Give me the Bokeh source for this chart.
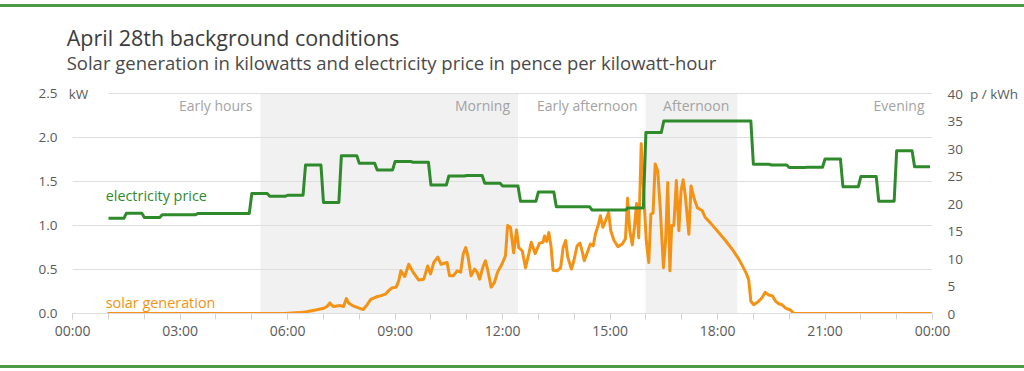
from bokeh.plotting import figure
from bokeh.models import LinearAxis, Range1d, FixedTicker, Label, Div
from bokeh.layouts import column
from bokeh.embed import file_html
from bokeh.resources import INLINE

FONT = "Open Sans"

# ---------------- data ----------------
# electricity price, pence per kWh, half-hour slots (slot start in hours)
price_slot_hours = [1.0, 1.5, 2.0, 2.5, 3.0, 3.5, 4.0, 4.5, 5.0, 5.5, 6.0, 6.5,
                    7.0, 7.5, 8.0, 8.5, 9.0, 9.5, 10.0, 10.5, 11.0, 11.5, 12.0, 12.5,
                    13.0, 13.5, 14.0, 14.5, 15.0, 15.5, 16.0, 16.5, 17.0, 17.5, 18.0, 18.5,
                    19.0, 19.5, 20.0, 20.5, 21.0, 21.5, 22.0, 22.5, 23.0, 23.5]
price_pence = [17.3, 18.25, 17.45, 17.95, 17.95, 18.2, 18.2, 18.2, 21.8, 21.3, 21.5, 27.0,
               20.2, 28.7, 27.3, 26.1, 27.65, 27.5, 23.35, 25.0, 25.1, 23.7, 23.2, 20.4,
               22.1, 19.4, 19.4, 18.8, 18.8, 19.2, 32.9, 35.0, 35.0, 35.0, 35.0, 35.0,
               27.15, 27.0, 26.55, 26.6, 28.1, 23.05, 24.9, 20.4, 29.6, 26.7]

# solar generation, kW (time in hours)
solar_hours = [0.97, 5.92, 6.32, 6.53, 6.78, 7.01, 7.10, 7.18, 7.27, 7.47, 7.56, 7.64, 7.70,
               7.81, 7.94, 8.11, 8.22, 8.32, 8.48, 8.59, 8.73, 8.82, 8.91, 9.03, 9.10,
               9.16, 9.27, 9.38, 9.50, 9.66, 9.80, 9.91, 9.99, 10.08, 10.19, 10.28, 10.45,
               10.52, 10.63, 10.73, 10.83, 10.90, 10.97, 11.03, 11.12, 11.22, 11.29, 11.36,
               11.46, 11.52, 11.58, 11.68, 11.77, 11.86, 11.98, 12.08, 12.14, 12.22, 12.31,
               12.39, 12.45, 12.55, 12.64, 12.73, 12.80, 12.91, 13.03, 13.13, 13.17, 13.23,
               13.29, 13.35, 13.41, 13.52, 13.62, 13.69, 13.76, 13.82, 13.92, 13.99, 14.08,
               14.16, 14.22, 14.28, 14.38, 14.45, 14.53, 14.59, 14.68, 14.73, 14.80, 14.87,
               14.96, 15.02, 15.11, 15.22, 15.34, 15.43, 15.49, 15.55, 15.62, 15.68, 15.74,
               15.80, 15.87, 15.96, 16.01, 16.08, 16.14, 16.20, 16.26, 16.33, 16.40, 16.49,
               16.55, 16.61, 16.67, 16.72, 16.78, 16.85, 16.92, 16.98, 17.04, 17.10, 17.20,
               17.26, 17.35, 17.44, 17.57, 17.66, 17.80, 17.99, 18.22, 18.41, 18.59, 18.71,
               18.81, 18.87, 18.93, 19.01, 19.15, 19.24, 19.33, 19.43, 19.53, 19.62, 19.71,
               19.80, 19.90, 20.03, 20.14, 23.98]
solar_kw = [0.0, 0.0, 0.01, 0.02, 0.04, 0.06, 0.08, 0.12, 0.08, 0.09, 0.08, 0.17, 0.12,
            0.09, 0.07, 0.045, 0.10, 0.16, 0.19, 0.20, 0.22, 0.26, 0.29, 0.30, 0.37,
            0.485, 0.42, 0.56, 0.47, 0.38, 0.39, 0.54, 0.45, 0.58, 0.64, 0.56, 0.58,
            0.43, 0.43, 0.485, 0.47, 0.675, 0.75, 0.655, 0.43, 0.505, 0.47, 0.39,
            0.54, 0.60, 0.505, 0.30, 0.35, 0.47, 0.56, 0.655, 1.0, 0.98, 0.69,
            0.95, 0.75, 0.71, 0.52, 0.675, 0.81, 0.68, 0.80, 0.81, 0.88, 0.82,
            0.92, 0.77, 0.49, 0.485, 0.52, 0.75, 0.83, 0.64, 0.505, 0.60, 0.77,
            0.80, 0.71, 0.60, 0.71, 0.79, 0.77, 0.90, 1.02, 1.11, 0.98, 1.05,
            1.15, 0.94, 0.83, 0.76, 0.79, 0.85, 1.31, 0.94, 0.78, 0.98, 1.25,
            0.86, 1.93, 1.20, 0.83, 0.58, 1.13, 1.14, 1.70, 1.62, 1.20, 0.52,
            0.83, 1.49, 0.485, 1.0, 1.0, 1.51, 0.94, 1.39, 1.52, 1.34, 0.90,
            1.45, 1.30, 1.20, 1.17, 1.09, 1.03, 0.94, 0.83, 0.73, 0.62, 0.53,
            0.45, 0.38, 0.14, 0.10, 0.14, 0.18, 0.24, 0.21, 0.20, 0.14, 0.11,
            0.10, 0.06, 0.04, 0.0, 0.0]

# periods of the day (hours)
period_names = ["Early hours", "Morning", "Early afternoon", "Afternoon", "Evening"]
period_start = [0.0, 5.24, 12.43, 15.99, 18.55]
period_end = [5.24, 12.43, 15.99, 18.55, 24.0]
period_shaded = [False, True, False, True, False]

x_tick_hours = [0, 3, 6, 9, 12, 15, 18, 21, 24]
x_tick_labels = ["00:00", "03:00", "06:00", "09:00", "12:00", "15:00", "18:00", "21:00", "00:00"]
kw_ticks = [0.0, 0.5, 1.0, 1.5, 2.0, 2.5]
pence_ticks = [0, 5, 10, 15, 20, 25, 30, 35, 40]

# ---------------- styling ----------------
GREEN = "#2f8a2c"
ORANGE = "#f39214"
GRID = "#dedede"
BAND = "#f1f1f1"
AXIS_TEXT = "#5a5a5a"
RULE = "#4c9a44"

PX_PER_KW = 88.0
FRAME_H = 306
KW_MAX = FRAME_H / PX_PER_KW
PENCE_MAX = KW_MAX * pence_ticks[-1] / kw_ticks[-1]
X_START = -0.34

p = figure(title=None, frame_width=872, frame_height=FRAME_H,
           min_border_left=60, min_border_right=88, min_border_top=0, min_border_bottom=52,
           x_range=Range1d(X_START, 24), y_range=Range1d(0, KW_MAX),
           output_backend="svg", toolbar_location=None,
           background_fill_color="white", border_fill_color="white")
p.outline_line_color = None
p.extra_y_ranges = {"price": Range1d(0, PENCE_MAX)}

# shaded bands
sh_left = [s for s, f in zip(period_start, period_shaded) if f]
sh_right = [e for e, f in zip(period_end, period_shaded) if f]
p.quad(left=sh_left, right=sh_right, bottom=0, top=kw_ticks[-1],
       fill_color=BAND, line_color=None, level="image")

# horizontal gridlines
p.xgrid.visible = False
p.ygrid.visible = False
p.segment(x0=0, x1=24, y0=kw_ticks[1:-1], y1=kw_ticks[1:-1],
          line_color=GRID, line_width=1.2, level="underlay")
p.segment(x0=[price_slot_hours[0]], x1=[24], y0=[kw_ticks[-1]], y1=[kw_ticks[-1]],
          line_color=GRID, line_width=1.2, level="underlay")

# x axis
xa = p.xaxis[0]
xa.bounds = (0, 24)
xa.ticker = FixedTicker(ticks=x_tick_hours, minor_ticks=list(range(0, 25)))
xa.major_label_overrides = {h: l for h, l in zip(x_tick_hours, x_tick_labels)}
xa.axis_line_color = GRID
xa.axis_line_width = 1.2
xa.major_tick_line_color = "#d2d2d2"
xa.minor_tick_line_color = "#d2d2d2"
xa.major_tick_in = 0
xa.major_tick_out = 6
xa.minor_tick_in = 0
xa.minor_tick_out = 6
xa.major_label_standoff = 1
xa.major_label_text_font = FONT
xa.major_label_text_font_size = "14px"
xa.major_label_text_color = AXIS_TEXT

# left axis (kW)
ya = p.yaxis[0]
ya.ticker = FixedTicker(ticks=kw_ticks)
ya.major_label_overrides = {t: f"{t:.1f}" for t in kw_ticks}
ya.axis_line_color = None
ya.major_tick_line_color = None
ya.minor_tick_line_color = None
ya.major_tick_in = 0
ya.major_tick_out = 0
ya.minor_tick_in = 0
ya.minor_tick_out = 0
ya.major_label_standoff = 3
ya.major_label_text_font = FONT
ya.major_label_text_font_size = "13.5px"
ya.major_label_text_color = AXIS_TEXT

# right axis (p/kWh)
ra = LinearAxis(y_range_name="price", ticker=FixedTicker(ticks=pence_ticks))
ra.major_label_overrides = {pence_ticks[-1]: f"{pence_ticks[-1]}\u00a0 p / kWh"}
ra.axis_line_color = None
ra.major_tick_line_color = None
ra.minor_tick_line_color = None
ra.major_tick_in = 0
ra.major_tick_out = 0
ra.minor_tick_in = 0
ra.minor_tick_out = 0
ra.major_label_standoff = 15
ra.major_label_text_font = FONT
ra.major_label_text_font_size = "13.5px"
ra.major_label_text_color = AXIS_TEXT
p.add_layout(ra, "right")

# solar generation line
p.line(solar_hours, solar_kw, line_color=ORANGE, line_width=3, line_join="round")

# electricity price line (half-hour steps with short ramps between slots)
HOLD = 0.43
px, py = [], []
for t, v in zip(price_slot_hours, price_pence):
    px += [t, t + HOLD]
    py += [v, v]
p.line(px, py, y_range_name="price", line_color=GREEN, line_width=3, line_join="round")

# period labels
for name, e in zip(period_names, period_end):
    p.add_layout(Label(x=e, y=kw_ticks[-1], x_offset=-8, y_offset=-12, text=name,
                       text_align="right", text_baseline="middle", text_font=FONT,
                       text_font_size="14px", text_color="#a3a3a3"))

# unit label for kW axis
p.add_layout(Label(x=0, y=kw_ticks[-1], x_offset=-4, text="kW", text_align="left",
                   text_baseline="middle", text_font=FONT, text_font_size="13.5px",
                   text_color=AXIS_TEXT))

# series labels
p.add_layout(Label(x=0, y=1.341, x_offset=33, text="electricity price", text_align="left",
                   text_baseline="middle", text_font=FONT, text_font_size="14.4px",
                   text_color=GREEN))
p.add_layout(Label(x=0, y=0.128, x_offset=33, text="solar generation", text_align="left",
                   text_baseline="middle", text_font=FONT, text_font_size="14.4px",
                   text_color=ORANGE))

# title and subtitle
p.add_layout(Label(x=0, y=kw_ticks[-1], x_offset=-6, y_offset=56,
                   text="April 28th background conditions", text_align="left",
                   text_baseline="middle", text_font=FONT, text_font_size="21.5px",
                   text_color="#3c3c3c"))
p.add_layout(Label(x=0, y=kw_ticks[-1], x_offset=-6, y_offset=31,
                   text="Solar generation in kilowatts and electricity price in pence per kilowatt-hour",
                   text_align="left", text_baseline="middle", text_font=FONT,
                   text_font_size="18.5px", text_color="#4a4a4a"))

top_rule = Div(text="", width=1024, height=3, margin=(4, 0, 0, 0),
               styles={"background-color": RULE})
bottom_rule = Div(text="", width=1024, height=3, margin=0,
                  styles={"background-color": RULE})

layout = column(top_rule, p, bottom_rule, spacing=0)

open("out.html", "w").write(file_html(layout, INLINE))
